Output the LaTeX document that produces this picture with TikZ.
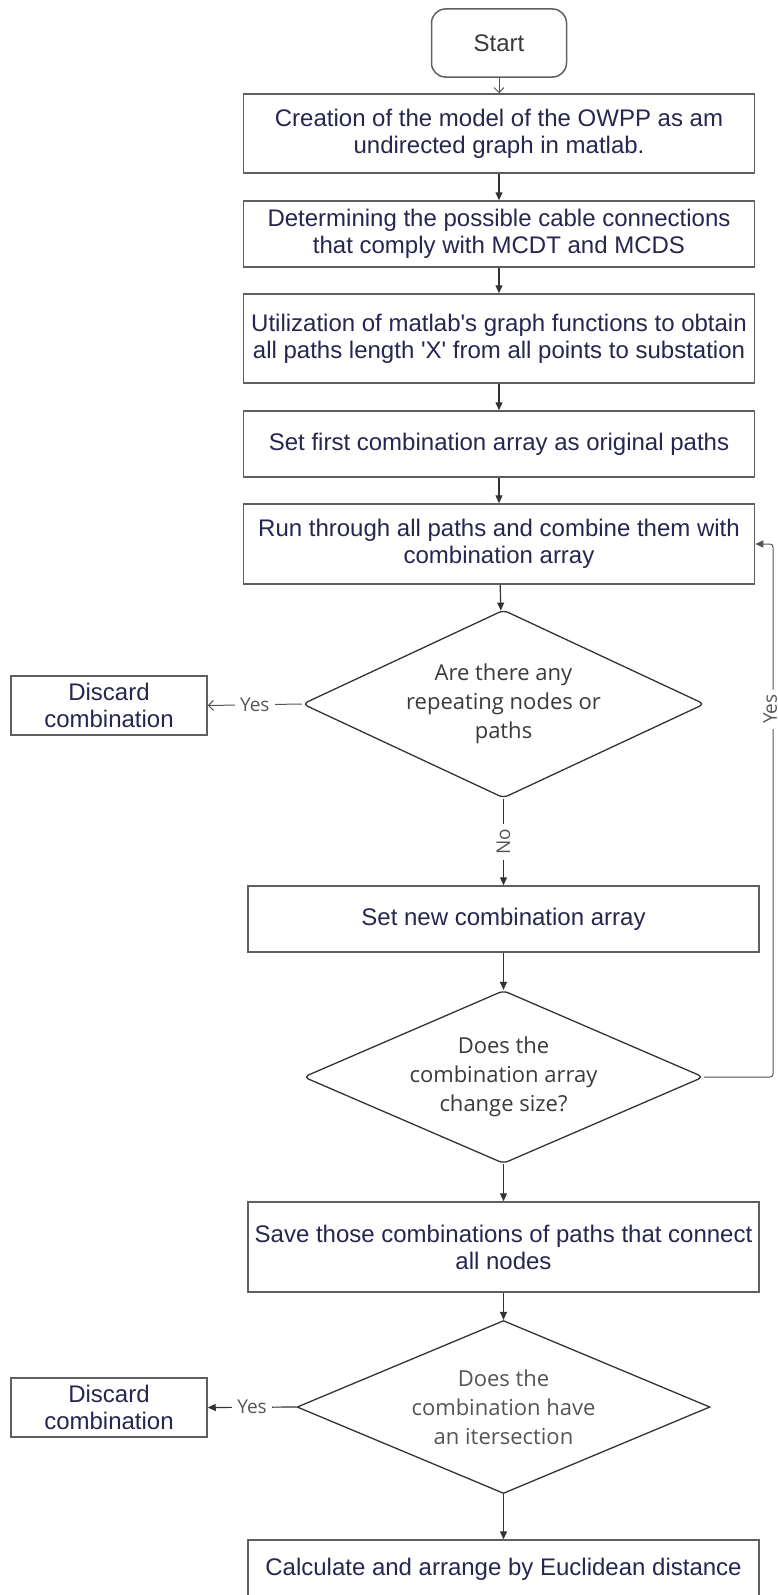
\documentclass[tikz,border=0pt]{standalone}
\usepackage{fontspec}
\newfontfamily\boxfont{Liberation Sans}
\newfontfamily\decfont{Open Sans}
\definecolor{BOXcolor}{HTML}{5f5f5f}
\definecolor{TXTcolor}{HTML}{262650}
\definecolor{DECcolor}{HTML}{3a3a3a}
\definecolor{LBLcolor}{HTML}{555555}
\definecolor{LINEcolor}{HTML}{333333}
\usetikzlibrary{math, shapes.geometric, arrows.meta}

\begin{document}
\begin{tikzpicture}[x=1pt, y=-1pt]

    \tikzset{%
        procbox/.style={%
                draw=BOXcolor, line width=1.5pt, fill=white, text=TXTcolor,
                align=center, inner sep=0pt, minimum width=511pt,
                font=\boxfont\fontsize{24}{27}\selectfont
            },
        startbox/.style={%
                procbox, rounded corners=14pt, text=DECcolor,
                minimum width=135pt, minimum height=68pt
            },
        decbox/.style={%
                diamond, aspect=2.2, draw=LINEcolor, line width=1.3pt, fill=white,
                text=DECcolor, align=center, inner sep=0pt,
                font=\decfont\fontsize{22}{29}\selectfont
            },
        flow/.style={%
                draw=LINEcolor, line width=1.2pt,
                -{Triangle[length=8pt, width=7pt]}
            },
        barbflow/.style={%
                draw=LBLcolor, line width=1pt,
                -{Straight Barb[length=5pt, width=10pt]}
            },
        choice/.style={%
                fill=white, text=LBLcolor, inner sep=5pt,
                font=\decfont\fontsize{19}{22}\selectfont
            }
    }

    \tikzmath{%
        \xtop=499;
        \xbot=503.5;
        \xloop=773;
    };

    \useasboundingbox (0, 0) rectangle (778, 1595);

    \node[startbox] (start) at (\xtop, 43) {Start};
    \node[procbox, minimum height=79pt] (model) at (\xtop, 133.5)
        {Creation of the model of the OWPP as am\\undirected graph in matlab.};
    \node[procbox, minimum height=66pt] (cable) at (\xtop, 234)
        {Determining the possible cable connections\\that comply with MCDT and MCDS};
    \node[procbox, minimum height=89pt] (allpaths) at (\xtop, 338.5)
        {Utilization of matlab's graph functions to obtain\\all paths length 'X' from all points to substation};
    \node[procbox, minimum height=66pt] (firstarr) at (\xtop, 444)
        {Set first combination array as original paths};
    \node[procbox, minimum height=80pt] (run) at (\xtop, 544)
        {Run through all paths and combine them with\\combination array};

    \node[decbox, rounded corners=5pt, minimum width=402pt, minimum height=188pt] (repeat) at (\xbot, 704)
        {Are there any\\repeating nodes or\\paths};
    \node[procbox, minimum width=196pt, minimum height=59pt] (discardA) at (109, 705.5)
        {Discard\\combination};

    \node[procbox, minimum height=66pt] (newarr) at (\xbot, 919)
        {Set new combination array};
    \node[decbox, rounded corners=5pt, minimum width=400pt, minimum height=173pt] (resize) at (\xbot, 1077)
        {Does the\\combination array\\change size?};

    \node[procbox, minimum height=90pt] (save) at (\xbot, 1247)
        {Save those combinations of paths that connect\\all nodes};
    \node[decbox, text=LBLcolor, minimum width=413pt, minimum height=173pt] (cross) at (\xbot, 1407)
        {Does the\\combination have\\an itersection};
    \node[procbox, minimum width=196pt, minimum height=59pt] (discardB) at (109, 1407.5)
        {Discard\\combination};

    \node[procbox, minimum height=58pt] (calc) at (\xbot, 1569)
        {Calculate and arrange by Euclidean distance};

    \coordinate (loopBot) at (\xloop, 1077);
    \coordinate (loopTop) at (\xloop, 544);

    \draw[barbflow] (start) -- (model);
    \draw[flow] (model) -- (cable);
    \draw[flow] (cable) -- (allpaths);
    \draw[flow] (allpaths) -- (firstarr);
    \draw[flow] (firstarr) -- (run);
    \draw[flow] (run) -- (repeat);
    \draw[barbflow] (repeat.west) -- node[choice] {Yes} (discardA.east);
    \draw[flow] (repeat) -- node[choice, rotate=90] {No} (newarr);
    \draw[flow] (newarr) -- (resize);
    \draw[flow, draw=LBLcolor, line width=1pt, rounded corners=3pt] (resize.east) -- (loopBot)
        -- node[choice, xshift=-3pt, rotate=90, text depth=0pt, inner ysep=2pt, pos=0.69] {Yes} (loopTop) -- (run.east);
    \draw[flow] (resize) -- (save);
    \draw[flow] (save) -- (cross);
    \draw[flow] (cross.west) -- node[choice] {Yes} (discardB.east);
    \draw[flow] (cross) -- (calc);

\end{tikzpicture}
\end{document}
